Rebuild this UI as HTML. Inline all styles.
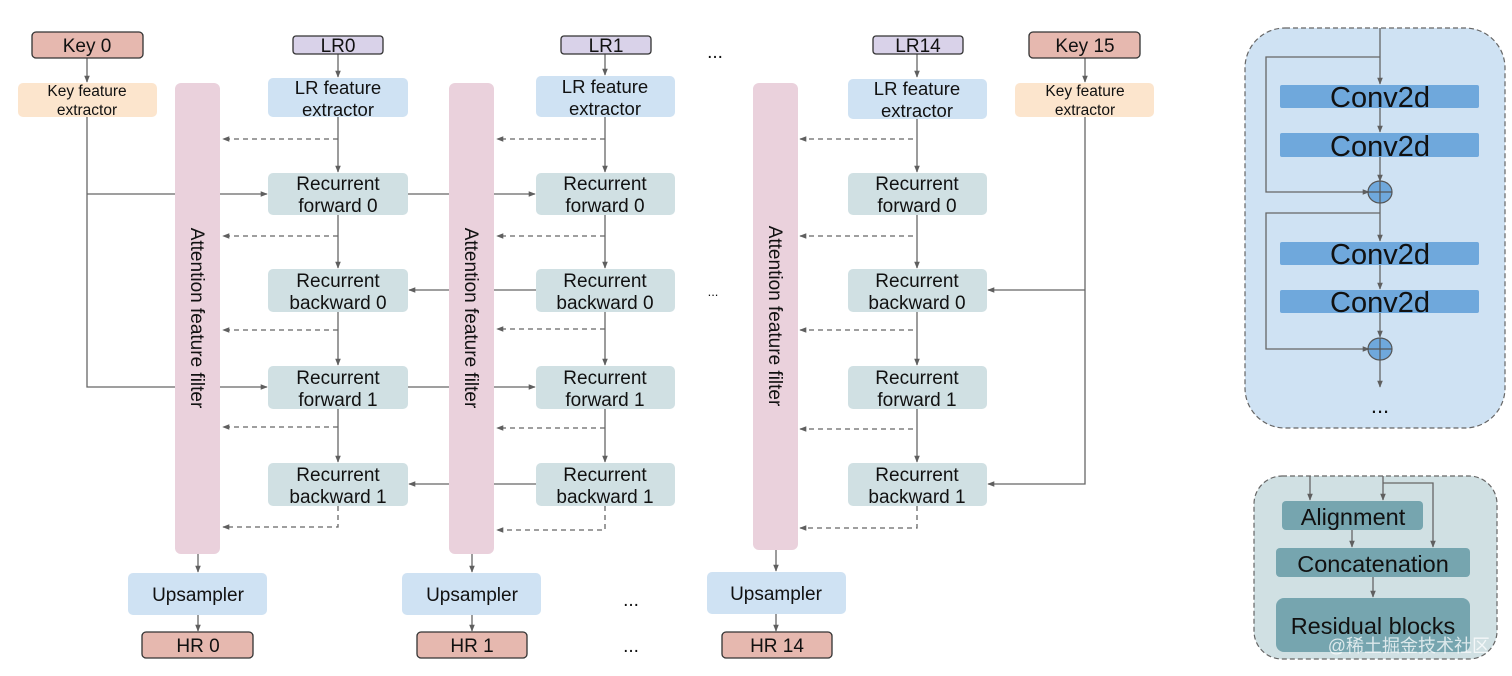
<!DOCTYPE html>
<html><head><meta charset="utf-8"><style>
html,body{margin:0;padding:0;background:#fff;}
svg{display:block;font-family:"Liberation Sans",Arial,sans-serif;}
</style></head><body>
<svg width="1512" height="676" viewBox="0 0 1512 676" xmlns="http://www.w3.org/2000/svg">
<defs>
<marker id="a" viewBox="0 0 10 10" refX="9" refY="5" markerWidth="7" markerHeight="7" orient="auto-start-reverse" markerUnits="userSpaceOnUse"><path d="M0,1 L10,5 L0,9 z" fill="#5f5f5f"/></marker>
</defs>
<g stroke="#666" stroke-width="1.3" fill="none">
<line x1="338" y1="54" x2="338" y2="77" marker-end="url(#a)"/>
<line x1="338" y1="117" x2="338" y2="172" marker-end="url(#a)"/>
<line x1="338" y1="215" x2="338" y2="268" marker-end="url(#a)"/>
<line x1="338" y1="312" x2="338" y2="365" marker-end="url(#a)"/>
<line x1="338" y1="409" x2="338" y2="462" marker-end="url(#a)"/>
<line x1="87" y1="58" x2="87" y2="82" marker-end="url(#a)"/>
<polyline points="87,117 87,387 267,387" marker-end="url(#a)"/>
<line x1="87" y1="194" x2="267" y2="194" marker-end="url(#a)"/>
<line x1="198" y1="554" x2="198" y2="572" marker-end="url(#a)"/>
<line x1="198" y1="615" x2="198" y2="631" marker-end="url(#a)"/>
<line x1="408" y1="194" x2="535" y2="194" marker-end="url(#a)"/>
<line x1="536" y1="290" x2="409" y2="290" marker-end="url(#a)"/>
<line x1="408" y1="387" x2="535" y2="387" marker-end="url(#a)"/>
<line x1="536" y1="484" x2="409" y2="484" marker-end="url(#a)"/>
<line x1="605" y1="54" x2="605" y2="75" marker-end="url(#a)"/>
<line x1="605" y1="117" x2="605" y2="172" marker-end="url(#a)"/>
<line x1="605" y1="215" x2="605" y2="268" marker-end="url(#a)"/>
<line x1="605" y1="312" x2="605" y2="365" marker-end="url(#a)"/>
<line x1="605" y1="409" x2="605" y2="462" marker-end="url(#a)"/>
<line x1="472" y1="554" x2="472" y2="572" marker-end="url(#a)"/>
<line x1="472" y1="615" x2="472" y2="631" marker-end="url(#a)"/>
<line x1="917" y1="54" x2="917" y2="77" marker-end="url(#a)"/>
<line x1="917" y1="119" x2="917" y2="172" marker-end="url(#a)"/>
<line x1="917" y1="215" x2="917" y2="268" marker-end="url(#a)"/>
<line x1="917" y1="312" x2="917" y2="365" marker-end="url(#a)"/>
<line x1="917" y1="409" x2="917" y2="462" marker-end="url(#a)"/>
<line x1="776" y1="550" x2="776" y2="571" marker-end="url(#a)"/>
<line x1="776" y1="614" x2="776" y2="631" marker-end="url(#a)"/>
<line x1="1085" y1="58" x2="1085" y2="82" marker-end="url(#a)"/>
<polyline points="1085,117 1085,484 988,484" marker-end="url(#a)"/>
<line x1="1085" y1="290" x2="988" y2="290" marker-end="url(#a)"/>
</g>
<g stroke="#666" stroke-width="1.3" fill="none" stroke-dasharray="5,4">
<line x1="338" y1="139" x2="223" y2="139" marker-end="url(#a)"/>
<line x1="338" y1="236" x2="223" y2="236" marker-end="url(#a)"/>
<line x1="338" y1="330" x2="223" y2="330" marker-end="url(#a)"/>
<line x1="338" y1="427" x2="223" y2="427" marker-end="url(#a)"/>
<polyline points="338,506 338,527 223,527" marker-end="url(#a)"/>
<line x1="605" y1="139" x2="497" y2="139" marker-end="url(#a)"/>
<line x1="605" y1="236" x2="497" y2="236" marker-end="url(#a)"/>
<line x1="605" y1="329" x2="497" y2="329" marker-end="url(#a)"/>
<line x1="605" y1="428" x2="497" y2="428" marker-end="url(#a)"/>
<polyline points="605,506 605,530 497,530" marker-end="url(#a)"/>
<line x1="913" y1="139" x2="800" y2="139" marker-end="url(#a)"/>
<line x1="913" y1="236" x2="800" y2="236" marker-end="url(#a)"/>
<line x1="913" y1="330" x2="800" y2="330" marker-end="url(#a)"/>
<line x1="913" y1="429" x2="800" y2="429" marker-end="url(#a)"/>
<polyline points="917,506 917,528 800,528" marker-end="url(#a)"/>
</g>
<g fill="#ead1dc">
<rect x="175" y="83" width="45" height="471" rx="6"/>
<rect x="449" y="83" width="45" height="471" rx="6"/>
<rect x="753" y="83" width="45" height="467" rx="6"/>
</g>
<g font-size="19" fill="#111" text-anchor="middle">
<text transform="translate(191,318) rotate(90)">Attention feature filter</text>
<text transform="translate(465,318) rotate(90)">Attention feature filter</text>
<text transform="translate(769,316) rotate(90)">Attention feature filter</text>
</g>
<g>
<rect x="32" y="32" width="111" height="26" rx="4" fill="#e6b8af" stroke="#333" stroke-width="1.3"/>
<rect x="1029" y="32" width="111" height="26" rx="4" fill="#e6b8af" stroke="#333" stroke-width="1.3"/>
<rect x="293" y="36" width="90" height="18" rx="3" fill="#d9d2e9" stroke="#333" stroke-width="1.3"/>
<rect x="561" y="36" width="90" height="18" rx="3" fill="#d9d2e9" stroke="#333" stroke-width="1.3"/>
<rect x="873" y="36" width="90" height="18" rx="3" fill="#d9d2e9" stroke="#333" stroke-width="1.3"/>
<rect x="18" y="83" width="139" height="34" rx="5" fill="#fce5cd"/>
<rect x="1015" y="83" width="139" height="34" rx="5" fill="#fce5cd"/>
<rect x="268" y="78" width="140" height="39" rx="5" fill="#cfe2f3"/>
<rect x="536" y="76" width="139" height="41" rx="5" fill="#cfe2f3"/>
<rect x="848" y="79" width="139" height="40" rx="5" fill="#cfe2f3"/>
</g>
<g fill="#d0e0e3">
<rect x="268" y="173" width="140" height="42" rx="5"/><rect x="268" y="269" width="140" height="43" rx="5"/><rect x="268" y="366" width="140" height="43" rx="5"/><rect x="268" y="463" width="140" height="43" rx="5"/>
<rect x="536" y="173" width="139" height="42" rx="5"/><rect x="536" y="269" width="139" height="43" rx="5"/><rect x="536" y="366" width="139" height="43" rx="5"/><rect x="536" y="463" width="139" height="43" rx="5"/>
<rect x="848" y="173" width="139" height="42" rx="5"/><rect x="848" y="269" width="139" height="43" rx="5"/><rect x="848" y="366" width="139" height="43" rx="5"/><rect x="848" y="463" width="139" height="43" rx="5"/>
</g>
<g fill="#cfe2f3">
<rect x="128" y="573" width="139" height="42" rx="5"/>
<rect x="402" y="573" width="139" height="42" rx="5"/>
<rect x="707" y="572" width="139" height="42" rx="5"/>
</g>
<g fill="#e6b8af" stroke="#333" stroke-width="1.3">
<rect x="142" y="632" width="111" height="26" rx="4"/>
<rect x="417" y="632" width="110" height="26" rx="4"/>
<rect x="722" y="632" width="110" height="26" rx="4"/>
</g>
<g font-size="19" fill="#111" text-anchor="middle">
<text x="87" y="52">Key 0</text><text x="1085" y="52">Key 15</text>
<text x="338" y="52">LR0</text><text x="606" y="52">LR1</text><text x="918" y="52">LR14</text>
<g font-size="18.5">
<text x="338" y="94">LR feature</text><text x="338" y="116">extractor</text>
<text x="605" y="93">LR feature</text><text x="605" y="115">extractor</text>
<text x="917" y="95">LR feature</text><text x="917" y="117">extractor</text></g>
<g font-size="15.5"><text x="87" y="96">Key feature</text><text x="87" y="115">extractor</text>
<text x="1085" y="96">Key feature</text><text x="1085" y="115">extractor</text></g>
<text x="338" y="190">Recurrent</text><text x="338" y="212">forward 0</text>
<text x="338" y="287">Recurrent</text><text x="338" y="309">backward 0</text>
<text x="338" y="384">Recurrent</text><text x="338" y="406">forward 1</text>
<text x="338" y="481">Recurrent</text><text x="338" y="503">backward 1</text>
<text x="605" y="190">Recurrent</text><text x="605" y="212">forward 0</text>
<text x="605" y="287">Recurrent</text><text x="605" y="309">backward 0</text>
<text x="605" y="384">Recurrent</text><text x="605" y="406">forward 1</text>
<text x="605" y="481">Recurrent</text><text x="605" y="503">backward 1</text>
<text x="917" y="190">Recurrent</text><text x="917" y="212">forward 0</text>
<text x="917" y="287">Recurrent</text><text x="917" y="309">backward 0</text>
<text x="917" y="384">Recurrent</text><text x="917" y="406">forward 1</text>
<text x="917" y="481">Recurrent</text><text x="917" y="503">backward 1</text>
<text x="198" y="601">Upsampler</text><text x="472" y="601">Upsampler</text><text x="776" y="600">Upsampler</text>
<text x="198" y="652">HR 0</text><text x="472" y="652">HR 1</text><text x="777" y="652">HR 14</text>
<text x="715" y="58">...</text><text x="713" y="296" font-size="13">...</text>
<text x="631" y="606">...</text><text x="631" y="652">...</text>
</g>
<rect x="1245" y="28" width="260" height="400" rx="40" fill="#cfe2f3" stroke="#666" stroke-width="1.2" stroke-dasharray="5,3"/>
<g stroke="#666" stroke-width="1.3" fill="none">
<line x1="1380" y1="28" x2="1380" y2="84" marker-end="url(#a)"/>
<line x1="1380" y1="108" x2="1380" y2="132" marker-end="url(#a)"/>
<line x1="1380" y1="157" x2="1380" y2="181" marker-end="url(#a)"/>
<polyline points="1380,57 1266,57 1266,192 1369,192" marker-end="url(#a)"/>
<line x1="1380" y1="203" x2="1380" y2="241" marker-end="url(#a)"/>
<line x1="1380" y1="265" x2="1380" y2="289" marker-end="url(#a)"/>
<line x1="1380" y1="313" x2="1380" y2="337" marker-end="url(#a)"/>
<polyline points="1380,213 1266,213 1266,349 1369,349" marker-end="url(#a)"/>
<line x1="1380" y1="360" x2="1380" y2="387" marker-end="url(#a)"/>
</g>
<g fill="#6fa8dc">
<rect x="1280" y="85" width="199" height="23" rx="2"/>
<rect x="1280" y="133" width="199" height="24" rx="2"/>
<rect x="1280" y="242" width="199" height="23" rx="2"/>
<rect x="1280" y="290" width="199" height="23" rx="2"/>
</g>
<g stroke="#555" stroke-width="1.2" fill="#6fa8dc">
<ellipse cx="1380" cy="192" rx="12" ry="11"/>
<ellipse cx="1380" cy="349" rx="12" ry="11"/>
<path d="M1368,192 H1392 M1380,181 V203 M1368,349 H1392 M1380,338 V360" fill="none"/>
</g>
<g font-size="29" fill="#111" text-anchor="middle">
<text x="1380" y="107">Conv2d</text><text x="1380" y="156">Conv2d</text>
<text x="1380" y="264">Conv2d</text><text x="1380" y="312">Conv2d</text>
<text x="1380" y="413" font-size="22">...</text>
</g>
<rect x="1254" y="476" width="243" height="183" rx="28" fill="#d0e0e3" stroke="#666" stroke-width="1.2" stroke-dasharray="5,3"/>
<rect x="1282" y="501" width="141" height="29" rx="4" fill="#76a5af"/>
<rect x="1276" y="548" width="194" height="29" rx="4" fill="#76a5af"/>
<rect x="1276" y="598" width="194" height="54" rx="8" fill="#76a5af"/>
<g stroke="#666" stroke-width="1.3" fill="none">
<line x1="1310" y1="476" x2="1310" y2="500" marker-end="url(#a)"/>
<line x1="1383" y1="476" x2="1383" y2="500" marker-end="url(#a)"/>
<polyline points="1383,483 1433,483 1433,547" marker-end="url(#a)"/>
<line x1="1352" y1="530" x2="1352" y2="547" marker-end="url(#a)"/>
<line x1="1373" y1="577" x2="1373" y2="597" marker-end="url(#a)"/>
</g>
<g font-size="23.5" fill="#111" text-anchor="middle">
<text x="1353" y="525">Alignment</text>
<text x="1373" y="572">Concatenation</text>
<text x="1373" y="634">Residual blocks</text>
</g>
<text x="1490" y="652" font-size="18" fill="#fff" fill-opacity="0.75" text-anchor="end" font-family="'Liberation Sans','Noto Sans CJK SC',sans-serif">@稀土掘金技术社区</text>
</svg>
</body></html>
